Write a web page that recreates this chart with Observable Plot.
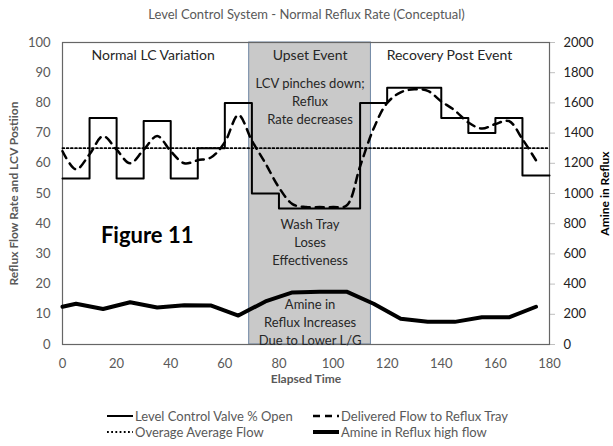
<!DOCTYPE html>
<html><head><meta charset="utf-8">
<script src="https://cdn.jsdelivr.net/npm/d3@7"></script>
<script src="https://cdn.jsdelivr.net/npm/@observablehq/plot@0.6"></script>
<style>
body{margin:0;background:#fff;font-family:Lato,sans-serif;}
#title{height:28px;line-height:28px;text-align:center;font-size:13px;color:#595959;width:613px}
#legend{position:relative;height:38px;width:613px;font-size:13px;color:#595959}
.item{position:absolute;display:flex;align-items:center;height:16px;white-space:nowrap}
.item svg{margin-right:2px}
</style></head><body>
<div id="title">Level Control System - Normal Reflux Rate (Conceptual)</div>
<div id="chart"></div>
<div id="legend"></div>
<script>
// Level Control Valve % Open (step line)
const lcvX = [0,10,20,30,40,50,60,70,80,110,120,140,150,160,170,180];
const lcvY = [55,75,55,74,55,65,80,50,45,80,85,75,70,75,56,56];
// Delivered Flow to Reflux Tray (dashed)
const flowX = [0,5,10,15,20,25,30,35,40,45,50,55,60,65,70,75,80,85,90,95,100,105,110,115,120,125,130,135,140,145,150,155,160,165,170,175];
const flowY = [64,58,63,69,64.5,60,64.5,69,64,60,61,62,67,76,67.5,60,52,46.5,45.5,45.5,45.5,46,59,71.5,80,83.5,84.5,84,80.5,77.5,73.5,71.5,73,74,68,61];
// Overage Average Flow (dotted)
const avgX = [0,180];
const avgY = [65,65];
// Amine in Reflux high flow (right axis)
const amineX = [0,5,15,25,35,45,55,65,75,85,95,105,115,125,135,145,155,165,175];
const amineY = [250,270,235,280,245,260,258,192,285,345,350,350,270,170,150,150,180,180,250];
// Upset event band
const upsetStart = 69, upsetEnd = 114;
// Tick values
const xTicks = [0,20,40,60,80,100,120,140,160,180];
const yTicks = [0,10,20,30,40,50,60,70,80,90,100];
const rightTicks = [0,200,400,600,800,1000,1200,1400,1600,1800,2000];
const rightMax = 2000, leftMax = 100;
const k = rightMax/leftMax;

const lcv = lcvX.map((x,i)=>({x, y:lcvY[i]}));
const flow = flowX.map((x,i)=>({x, y:flowY[i]}));
const avg = avgX.map((x,i)=>({x, y:avgY[i]}));
const amine = amineX.map((x,i)=>({x, y:amineY[i]}));

const notes = [
  {x:33.5, y:95.7, text:"Normal LC Variation", size:14},
  {x:91.5, y:95.7, text:"Upset Event", size:14},
  {x:143, y:95.7, text:"Recovery Post Event", size:14},
  {x:91.5, y:80.8, text:"LCV pinches down;\nReflux\nRate decreases", size:13},
  {x:91.5, y:34.2, text:"Wash Tray\nLoses\nEffectiveness", size:13},
  {x:91.5, y:7.7, text:"Amine in\nReflux Increases\nDue to Lower L/G", size:13}
];

const chart = Plot.plot({
  width: 613,
  height: 380,
  marginTop: 14,
  marginBottom: 64,
  marginLeft: 62,
  marginRight: 64,
  style: {fontFamily: "Lato, sans-serif", fontSize: "13px", background: "#fff"},
  x: {domain:[0,180], ticks: xTicks, label: null},
  y: {domain:[0,100], ticks: yTicks, label: null},
  marks: [
    Plot.rect([{x1:upsetStart, x2:upsetEnd}], {x1:"x1", x2:"x2", y1:0, y2:leftMax, fill:"#c9c9c9", stroke:"#6f86a3", strokeWidth:1}),
    Plot.axisX({ticks: xTicks, tickSize:0, tickPadding:14, fill:"#595959", fontSize:13, label:null}),
    Plot.axisY({anchor:"left", ticks: yTicks, tickSize:0, tickPadding:12, fill:"#595959", fontSize:13, label:null}),
    Plot.axisY({anchor:"right", ticks: rightTicks.map(d=>d/k), tickFormat: d=>String(Math.round(d*k)), tickSize:5, tickPadding:9, stroke:"#bfbfbf", fill:"#222", fontSize:13, label:null}),
    Plot.frame({stroke:"#666", strokeWidth:1.2}),
    Plot.line(avg, {x:"x", y:"y", stroke:"#000", strokeWidth:1.8, strokeDasharray:"1.8,2.4"}),
    Plot.line(lcv, {x:"x", y:"y", curve:"step-after", stroke:"#000", strokeWidth:2}),
    Plot.line(flow, {x:"x", y:"y", curve:"catmull-rom", stroke:"#000", strokeWidth:2.5, strokeDasharray:"8,6"}),
    Plot.line(amine, {x:"x", y:d=>d.y/k, stroke:"#000", strokeWidth:4, strokeLinejoin:"round"}),
    Plot.text(notes.filter(d=>d.size===14), {x:"x", y:"y", text:"text", fill:"#262626", fontSize:14}),
    Plot.text(notes.filter(d=>d.size===13), {x:"x", y:"y", text:"text", fill:"#262626", fontSize:13, lineHeight:1.38}),
    Plot.text(["Figure 11"], {x:[31.3], y:[36.1], text:d=>d, fontSize:22, fontWeight:"bold", fill:"#000"}),
    Plot.text(["Elapsed Time"], {frameAnchor:"bottom", dy:38, fontSize:12, fontWeight:"bold", fill:"#595959"}),
    Plot.text(["Reflux Flow Rate and LCV Postiion"], {frameAnchor:"left", textAnchor:"middle", dx:-48, rotate:-90, fontSize:12, fontWeight:"bold", fill:"#595959"}),
    Plot.text(["Amine in Reflux"], {frameAnchor:"right", textAnchor:"middle", dx:56, rotate:-90, fontSize:12, fontWeight:"bold", fill:"#000"})
  ]
});
document.getElementById("chart").appendChild(chart);

// legend
const legendItems = [
  {label:"Level Control Valve % Open", dash:null, w:2, left:107, top:0},
  {label:"Delivered Flow to Reflux Tray", dash:"7,5", w:2.5, left:313, top:0},
  {label:"Overage Average Flow", dash:"1.8,2.4", w:1.8, left:107, top:16},
  {label:"Amine in Reflux high flow", dash:null, w:4, left:313, top:16}
];
const leg = document.getElementById("legend");
legendItems.forEach(it=>{
  const div = document.createElement("div");
  div.className = "item";
  div.style.left = it.left+"px";
  div.style.top = it.top+"px";
  div.innerHTML = `<svg width="26" height="10"><line x1="0" x2="26" y1="5" y2="5" stroke="#000" stroke-width="${it.w}" ${it.dash?`stroke-dasharray="${it.dash}"`:""}/></svg><span>${it.label}</span>`;
  leg.appendChild(div);
});
</script>
</body></html>
